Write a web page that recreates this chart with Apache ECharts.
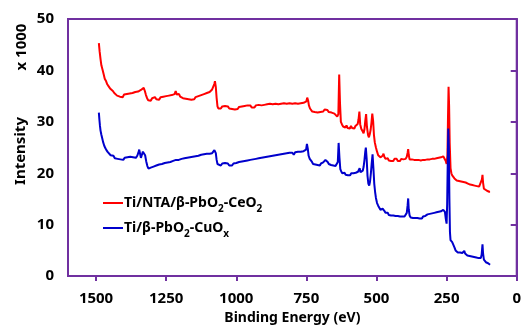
<!DOCTYPE html>
<html>
<head>
<meta charset="utf-8">
<script src="https://cdn.jsdelivr.net/npm/echarts@6/dist/echarts.min.js"></script>
<style>
  html, body { margin: 0; padding: 0; background: #fff; }
  #chart { width: 524px; height: 330px; }
</style>
</head>
<body>
<div id="chart"></div>
<script>
// series names
var seriesNames = ["Ti/NTA/β-PbO2-CeO2", "Ti/β-PbO2-CuOx"];

// red: Ti/NTA/β-PbO2-CeO2  (binding energy eV, intensity x1000)
var redEnergy = [1490,1487,1484,1481,1477,1473,1469,1465,1460,1455,1450,1445,1440,1435,1430,1425,1420,1415,1410,1405,1400,1395,1390,1385,1380,1375,1370,1365,1360,1355,1350,1345,1340,1335,1330,1326,1322,1318,1314,1310,1305,1300,1295,1290,1285,1280,1275,1270,1265,1260,1255,1250,1245,1240,1235,1230,1225,1220,1216,1212,1208,1204,1200,1195,1190,1185,1180,1175,1170,1165,1160,1155,1150,1145,1140,1135,1130,1125,1120,1115,1110,1105,1100,1095,1090,1086,1082,1078,1076,1073,1070,1067,1064,1060,1055,1050,1045,1040,1035,1030,1025,1020,1015,1010,1005,1000,995,990,985,980,975,970,965,960,955,950,945,940,935,930,925,920,915,910,905,900,895,890,885,880,875,870,865,860,855,850,845,840,835,830,825,820,815,810,805,800,795,790,785,780,775,770,765,760,755,750,747,744,741,737,733,729,725,720,715,710,705,700,695,690,685,680,675,670,665,660,655,650,645,640,636,633,630,627,623,619,615,611,607,603,599,595,591,587,583,579,575,571,567,564,561,558,554,550,546,543,540,537,534,530,527,524,521,518,515,512,509,506,502,498,494,490,486,482,478,475,472,468,464,460,456,452,448,444,440,436,432,428,424,420,416,412,408,404,400,396,392,389,387,385,382,378,374,370,366,362,358,354,350,346,342,338,334,330,326,322,318,314,310,306,302,298,294,290,286,282,278,274,270,266,262,259,256,253,250,247,245,243,241,239,236,233,230,226,222,218,214,210,206,202,198,194,190,186,182,178,174,170,166,162,158,154,150,146,142,138,134,130,127,124,122,120,117,114,110,106,102,98,95];
var redIntensity = [45.3,43.6,42.2,41.0,40.2,39.3,38.4,38.0,37.3,36.9,36.5,36.2,36.0,35.6,35.5,35.1,35.2,34.9,35.2,34.8,35.3,35.0,35.4,35.1,35.5,35.2,35.6,35.4,35.8,35.5,35.9,35.7,36.2,35.9,36.6,36.0,35.2,34.6,34.2,34.5,34.1,34.6,34.3,34.8,34.4,34.7,34.3,34.8,34.5,34.9,34.6,35.0,34.7,35.1,34.8,35.2,34.9,35.4,36.0,35.3,35.0,35.4,34.9,35.2,34.6,34.9,34.5,34.8,34.4,34.7,34.3,34.6,34.4,34.8,34.6,35.0,34.8,35.2,35.0,35.4,35.2,35.6,35.4,35.8,35.9,36.3,36.6,37.4,37.9,36.8,34.6,33.0,32.6,32.9,32.6,33.0,32.7,33.1,32.8,33.0,32.6,32.9,32.5,32.8,32.4,32.7,32.5,32.9,32.6,33.0,32.7,33.1,32.8,33.2,32.9,33.2,32.8,33.1,32.8,33.2,32.9,33.3,33.0,33.2,32.9,33.3,33.0,33.4,33.1,33.5,33.2,33.4,33.1,33.5,33.2,33.4,33.1,33.5,33.2,33.6,33.3,33.5,33.2,33.6,33.3,33.5,33.2,33.6,33.3,33.5,33.3,33.6,33.4,33.7,33.5,34.0,34.7,34.2,33.2,32.6,32.3,32.0,32.3,31.9,32.2,31.8,32.1,31.9,32.2,32.0,32.4,32.1,32.3,31.9,32.2,31.8,32.0,31.6,31.3,31.0,31.5,39.2,33.5,30.0,29.5,29.1,29.4,28.9,29.3,28.8,29.1,28.7,29.2,28.8,29.1,28.7,29.2,28.9,29.6,30.5,32.0,29.5,28.6,28.2,27.8,28.5,30.2,31.5,29.0,27.4,27.0,27.6,28.4,29.8,31.6,30.2,27.4,26.0,25.0,24.2,23.5,23.3,23.1,23.0,23.4,23.8,23.2,22.8,22.6,22.9,22.5,22.8,22.4,22.7,22.4,22.8,22.5,22.8,22.4,22.7,22.4,22.8,22.5,22.7,22.4,22.8,23.2,24.0,24.7,23.6,22.7,22.4,22.7,22.4,22.6,22.3,22.6,22.3,22.6,22.3,22.5,22.2,22.6,22.3,22.6,22.4,22.7,22.4,22.7,22.5,22.8,22.5,22.8,22.6,22.9,22.7,23.0,22.8,23.1,23.0,23.3,23.4,23.0,22.4,21.8,23.5,31.0,36.8,33.0,26.0,21.0,20.0,19.6,19.3,19.0,18.7,18.6,18.3,18.5,18.2,18.4,18.1,18.3,18.0,18.2,17.9,18.0,17.7,17.8,17.5,17.7,17.4,17.6,17.3,17.5,17.2,17.4,17.2,17.6,18.8,19.7,18.2,17.0,16.7,16.9,16.6,16.7,16.4,16.4];

// blue: Ti/β-PbO2-CuOx
var blueEnergy = [1490,1488,1486,1484,1481,1478,1475,1471,1467,1463,1458,1453,1448,1443,1438,1433,1428,1423,1418,1413,1408,1403,1398,1393,1388,1383,1378,1373,1368,1363,1358,1353,1349,1346,1343,1340,1337,1333,1329,1325,1321,1317,1313,1309,1305,1300,1295,1290,1285,1280,1275,1270,1265,1260,1255,1250,1245,1240,1235,1230,1225,1220,1215,1210,1205,1200,1195,1190,1185,1180,1175,1170,1165,1160,1155,1150,1145,1140,1135,1130,1125,1120,1115,1110,1105,1100,1095,1090,1086,1082,1078,1076,1073,1070,1067,1064,1060,1055,1050,1045,1040,1035,1030,1025,1020,1015,1010,1005,1000,995,990,985,980,975,970,965,960,955,950,945,940,935,930,925,920,915,910,905,900,895,890,885,880,875,870,865,860,855,850,845,840,835,830,825,820,815,810,805,800,795,790,785,780,775,770,765,760,755,751,748,745,742,738,734,730,726,722,718,714,710,706,702,698,694,690,686,682,678,674,670,666,662,658,654,650,646,642,638,635,632,629,626,622,618,614,610,606,602,598,594,590,586,582,578,574,570,566,563,560,557,553,549,546,543,540,538,535,532,529,526,523,520,517,514,511,508,505,502,498,494,490,486,482,478,475,472,468,464,460,456,452,448,444,440,436,432,428,424,420,416,412,408,404,400,396,392,389,387,385,382,378,374,370,366,362,358,354,350,346,342,338,334,330,326,322,318,314,310,306,302,298,294,290,286,282,278,274,270,266,262,259,256,253,250,248,246,244,242,240,238,236,233,230,226,222,218,214,210,206,202,198,194,190,187,184,180,176,172,168,164,160,156,152,148,144,140,136,132,128,125,122,120,117,114,110,106,102,98,95];
var blueIntensity = [31.8,30.4,29.2,28.3,27.5,26.8,26.1,25.4,24.9,24.5,24.1,23.8,23.5,23.2,23.4,22.9,23.2,22.8,23.1,22.7,23.0,22.6,23.0,22.7,23.1,22.8,23.2,22.9,23.1,22.8,23.0,23.4,24.0,24.6,23.8,23.0,23.5,24.2,24.4,23.5,22.3,21.4,20.9,20.8,21.1,21.0,21.3,21.1,21.5,21.3,21.7,21.5,21.8,21.6,22.0,21.7,22.1,21.9,22.2,22.0,22.4,22.1,22.6,22.3,22.6,22.4,22.8,22.5,22.9,22.6,23.0,22.7,23.1,22.9,23.2,22.9,23.3,23.0,23.4,23.1,23.6,23.3,23.7,23.4,23.8,23.5,23.8,23.5,23.9,24.1,24.5,24.7,23.9,22.6,21.8,21.5,21.8,21.5,21.9,21.6,22.0,21.7,21.9,21.5,21.8,21.5,21.9,21.6,22.0,21.8,22.2,21.9,22.3,22.0,22.4,22.1,22.5,22.2,22.6,22.3,22.7,22.4,22.8,22.5,22.9,22.6,23.0,22.7,23.1,22.8,23.2,22.9,23.3,23.0,23.4,23.1,23.5,23.2,23.6,23.3,23.7,23.4,23.8,23.5,23.9,23.6,24.0,23.7,24.0,23.6,24.1,23.8,24.2,23.9,24.2,23.9,24.3,24.1,24.6,25.7,24.8,23.4,22.8,22.5,22.2,21.8,22.1,21.7,22.0,21.6,21.9,21.5,21.9,21.7,22.1,22.3,22.6,22.4,22.2,21.8,22.0,21.6,21.9,21.5,21.8,21.4,21.6,22.2,25.9,23.0,20.8,20.4,20.0,19.8,20.1,19.7,20.0,19.6,19.9,19.6,20.0,19.7,20.0,19.7,20.1,19.9,20.3,20.6,21.0,20.2,20.0,20.5,21.2,22.5,24.2,25.0,22.8,19.5,18.0,17.6,18.4,20.0,22.0,23.7,21.0,18.0,16.4,15.2,14.2,13.7,13.3,12.9,12.8,13.1,13.4,12.7,12.3,12.0,12.3,11.9,12.2,11.8,12.1,11.8,12.1,11.7,12.0,11.7,12.0,11.6,11.9,11.6,11.9,11.6,11.9,12.3,13.8,15.1,13.0,11.8,11.4,11.7,11.3,11.6,11.3,11.6,11.3,11.5,11.2,11.5,11.2,11.6,11.3,11.7,11.8,12.0,11.8,12.1,11.9,12.2,12.0,12.3,12.1,12.4,12.2,12.5,12.3,12.6,12.5,12.9,13.1,12.5,11.2,10.2,14.0,22.0,28.7,25.0,15.0,8.5,7.0,6.8,6.6,6.3,5.6,5.0,4.8,4.6,4.4,4.6,4.3,4.5,4.6,4.9,4.4,4.2,4.0,4.1,3.9,4.0,3.8,3.9,3.7,3.8,3.6,3.7,3.5,3.6,3.5,4.2,6.2,4.4,3.2,2.9,2.7,2.8,2.5,2.3,2.2];

// axis ticks
var xMin = 0, xMax = 1600, xStep = 250;
var yMin = 0, yMax = 50, yStep = 10;

function pairs(xs, ys) {
  var out = [];
  for (var i = 0; i < xs.length; i++) out.push([xs[i], ys[i]]);
  return out;
}

var purple = "#7030A0";
var font = "Noto Sans";

var chart = echarts.init(document.getElementById("chart"));
chart.setOption({
  animation: false,
  backgroundColor: "#fff",
  grid: {
    left: 68,
    right: 2,
    top: 19,
    bottom: 52,
    show: true,
    borderColor: purple,
    borderWidth: 2,
  },
  legend: {
    orient: "vertical",
    left: 103,
    top: 196,
    padding: 0,
    itemWidth: 20,
    itemHeight: 2,
    itemGap: 7,
    icon: "rect",
    selectedMode: false,
    data: seriesNames,
    formatter: function (name) {
      if (name === seriesNames[0]) {
        return "{b|Ti/NTA/β-PbO}{s|2}{b|-CeO}{s|2}";
      }
      return "{b|Ti/β-PbO}{s|2}{b|-CuO}{s|x}";
    },
    textStyle: {
      padding: [0, 0, 0, -4],
      rich: {
        b: { fontSize: 14, fontWeight: "bold", fontFamily: font, color: "#000", lineHeight: 16 },
        s: { fontSize: 10, fontWeight: "bold", fontFamily: font, color: "#000", lineHeight: 22, verticalAlign: "bottom" },
      },
    },
  },
  xAxis: {
    type: "value",
    min: xMin,
    max: xMax,
    interval: xStep,
    inverse: true,
    name: "Binding Energy (eV)",
    nameLocation: "middle",
    nameGap: 34,
    nameTextStyle: { fontSize: 14, fontWeight: "bold", fontFamily: font, color: "#000" },
    axisLine: { lineStyle: { color: purple, width: 2 } },
    axisTick: { show: true, length: 5, lineStyle: { color: purple, width: 2 } },
    splitLine: { show: false },
    axisLabel: {
      showMaxLabel: false,
      alignMinLabel: "center",
      margin: 15,
      fontSize: 15,
      fontWeight: "bold",
      fontFamily: font,
      color: "#000",
      formatter: function (v) { return String(v); },
    },
  },
  yAxis: {
    type: "value",
    min: yMin,
    max: yMax,
    interval: yStep,
    axisLine: { show: true, lineStyle: { color: purple, width: 2 } },
    axisTick: { show: true, length: 6, lineStyle: { color: purple, width: 2 } },
    splitLine: { show: false },
    axisLabel: {
      margin: 14,
      fontSize: 15,
      fontWeight: "bold",
      fontFamily: font,
      color: "#000",
    },
  },
  graphic: [
    {
      type: "text",
      x: 22,
      y: 47,
      rotation: Math.PI / 2,
      style: {
        text: "x 1000",
        fontSize: 15,
        fontWeight: "bold",
        fontFamily: font,
        fill: "#000",
        align: "center",
        verticalAlign: "middle",
      },
    },
    {
      type: "text",
      x: 21,
      y: 151,
      rotation: Math.PI / 2,
      style: {
        text: "Intensity",
        fontSize: 15,
        fontWeight: "bold",
        fontFamily: font,
        fill: "#000",
        align: "center",
        verticalAlign: "middle",
      },
    },
  ],
  series: [
    {
      name: seriesNames[0],
      type: "line",
      showSymbol: false,
      color: "#FF0000",
      lineStyle: { width: 2, color: "#FF0000" },
      data: pairs(redEnergy, redIntensity),
    },
    {
      name: seriesNames[1],
      type: "line",
      showSymbol: false,
      color: "#0000CC",
      lineStyle: { width: 2, color: "#0000CC" },
      data: pairs(blueEnergy, blueIntensity),
    },
  ],
});
</script>
</body>
</html>
